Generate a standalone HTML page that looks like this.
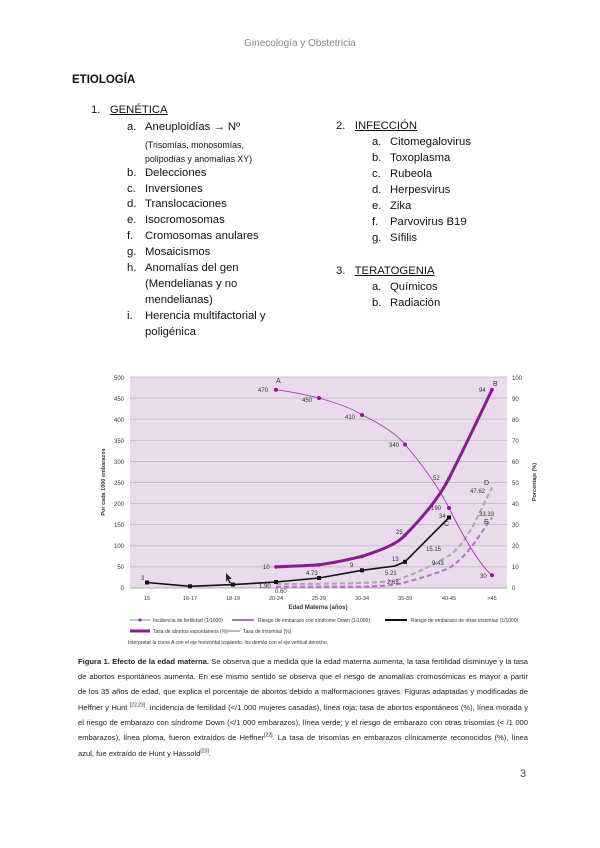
<!DOCTYPE html>
<html><head><meta charset="utf-8"><style>
body{margin:0;background:#fff;}
#p{position:relative;width:600px;height:848px;overflow:hidden;font-family:"Liberation Sans",sans-serif;color:#111;}
.t{position:absolute;white-space:nowrap;font-size:11.3px;line-height:14px;}
.s{font-size:8.8px;}
u{text-decoration:underline;}
.cl{position:absolute;left:78px;width:450px;font-size:7.6px;line-height:11px;white-space:nowrap;text-align:justify;text-align-last:justify;color:#222;}
.cl sup{font-size:5px;line-height:0;}
</style></head><body><div id="p">
<div class="t" style="left:0;width:600px;text-align:center;top:37px;font-size:10px;color:#888">Ginecología y Obstetricia</div>
<div class="t" style="left:72px;top:73px;font-weight:bold;font-size:11.5px">ETIOLOGÍA</div>
<div class="t" style="left:91px;top:103px">1.&nbsp;&nbsp; <u>GENÉTICA</u></div>
<div class="t" style="left:127px;top:120px">a.</div><div class="t" style="left:145px;top:120px">Aneuploidías → Nº</div>
<div class="t s" style="left:145px;top:138px">(Trisomías, monosomías,</div>
<div class="t s" style="left:145px;top:152px">polipodías y anomalías XY)</div>
<div class="t" style="left:127px;top:166px">b.</div><div class="t" style="left:145px;top:166px">Delecciones</div>
<div class="t" style="left:127px;top:182px">c.</div><div class="t" style="left:145px;top:182px">Inversiones</div>
<div class="t" style="left:127px;top:197px">d.</div><div class="t" style="left:145px;top:197px">Translocaciones</div>
<div class="t" style="left:127px;top:213px">e.</div><div class="t" style="left:145px;top:213px">Isocromosomas</div>
<div class="t" style="left:127px;top:229px">f.</div><div class="t" style="left:145px;top:229px">Cromosomas anulares</div>
<div class="t" style="left:127px;top:245px">g.</div><div class="t" style="left:145px;top:245px">Mosaicismos</div>
<div class="t" style="left:127px;top:261px">h.</div><div class="t" style="left:145px;top:261px">Anomalías del gen</div>
<div class="t" style="left:145px;top:277px">(Mendelianas y no</div>
<div class="t" style="left:145px;top:293px">mendelianas)</div>
<div class="t" style="left:127px;top:309px">i.</div><div class="t" style="left:145px;top:309px">Herencia multifactorial y</div>
<div class="t" style="left:145px;top:325px">poligénica</div>
<div class="t" style="left:336px;top:119px">2.&nbsp;&nbsp; <u>INFECCIÓN</u></div>
<div class="t" style="left:372px;top:135px">a.</div><div class="t" style="left:390px;top:135px">Citomegalovirus</div>
<div class="t" style="left:372px;top:151px">b.</div><div class="t" style="left:390px;top:151px">Toxoplasma</div>
<div class="t" style="left:372px;top:167px">c.</div><div class="t" style="left:390px;top:167px">Rubeola</div>
<div class="t" style="left:372px;top:183px">d.</div><div class="t" style="left:390px;top:183px">Herpesvirus</div>
<div class="t" style="left:372px;top:199px">e.</div><div class="t" style="left:390px;top:199px">Zika</div>
<div class="t" style="left:372px;top:215px">f.</div><div class="t" style="left:390px;top:215px">Parvovirus B19</div>
<div class="t" style="left:372px;top:231px">g.</div><div class="t" style="left:390px;top:231px">Sífilis</div>
<div class="t" style="left:336px;top:264px">3.&nbsp;&nbsp; <u>TERATOGENIA</u></div>
<div class="t" style="left:372px;top:280px">a.</div><div class="t" style="left:390px;top:280px">Químicos</div>
<div class="t" style="left:372px;top:296px">b.</div><div class="t" style="left:390px;top:296px">Radiación</div>

<svg style="position:absolute;left:0;top:0" width="600" height="848" font-family="Liberation Sans, sans-serif">
<rect x="130" y="377" width="377" height="211" fill="#e9dbec"/>
<g stroke="#bdb0c0" stroke-width="0.7">
<line x1="130" x2="507" y1="377" y2="377"/><line x1="130" x2="507" y1="398.1" y2="398.1"/><line x1="130" x2="507" y1="419.2" y2="419.2"/><line x1="130" x2="507" y1="440.3" y2="440.3"/><line x1="130" x2="507" y1="461.4" y2="461.4"/><line x1="130" x2="507" y1="482.5" y2="482.5"/><line x1="130" x2="507" y1="503.6" y2="503.6"/><line x1="130" x2="507" y1="524.7" y2="524.7"/><line x1="130" x2="507" y1="545.8" y2="545.8"/><line x1="130" x2="507" y1="566.9" y2="566.9"/></g>
<line x1="130" x2="507" y1="588" y2="588" stroke="#999" stroke-width="0.8"/>
<g font-size="6" fill="#333" text-anchor="end">
<text x="124" y="380">500</text><text x="124" y="401">450</text><text x="124" y="422">400</text><text x="124" y="443">350</text><text x="124" y="464">300</text><text x="124" y="485">250</text><text x="124" y="506">200</text><text x="124" y="527">150</text><text x="124" y="548">100</text><text x="124" y="569">50</text><text x="124" y="590">0</text></g>
<g font-size="6" fill="#333">
<text x="512" y="380">100</text><text x="512" y="401">90</text><text x="512" y="422">80</text><text x="512" y="443">70</text><text x="512" y="464">60</text><text x="512" y="485">50</text><text x="512" y="506">40</text><text x="512" y="527">30</text><text x="512" y="548">20</text><text x="512" y="569">10</text><text x="512" y="590">0</text></g>
<g font-size="5.5" fill="#333" text-anchor="middle">
<text x="147" y="600">15</text><text x="190" y="600">16-17</text><text x="233" y="600">18-19</text><text x="276" y="600">20-24</text><text x="319" y="600">25-29</text><text x="362" y="600">30-34</text><text x="405" y="600">35-39</text><text x="449" y="600">40-45</text><text x="492" y="600">&gt;45</text></g>
<text x="318" y="609" font-size="6" font-weight="bold" text-anchor="middle" fill="#333">Edad Materna (años)</text>
<text transform="translate(105,482) rotate(-90)" font-size="5.5" font-weight="bold" text-anchor="middle" fill="#333">Por cada 1000 embarazos</text>
<text transform="translate(536,482) rotate(-90)" font-size="5.5" font-weight="bold" text-anchor="middle" fill="#333">Porcentaje (%)</text>
<path d="M276,584 C300,584 320,584 362,583 C390,582 400,580 405,577 C425,570 440,560 449,556 C470,540 480,510 492,487.5" fill="none" stroke="#aaa" stroke-width="2" stroke-dasharray="5,3"/>
<path d="M276,586.7 L362,586.7 C390,586 400,584 405,582.4 C425,577 440,572 449,568 C470,555 482,530 492,517.7" fill="none" stroke="#b46fc0" stroke-width="2" stroke-dasharray="5,3"/>
<path d="M276,389.7 C300,393 310,396 319,398 C340,404 355,410 362,415 C385,426 398,436 405,444.5 C425,468 440,490 449,508 C465,540 480,565 492,575.3" fill="none" stroke="#9b3fa6" stroke-width="0.9"/>
<path d="M276,566.9 C300,566 310,565.5 319,564.8 C340,562 350,559 362,556.4 C385,549 398,543 405,535.2 C425,515 440,496 449,478.3 C465,447 480,415 492,389.7" fill="none" stroke="#8a1a8f" stroke-width="3"/>
<polyline points="147,582.5 190,586.3 233,584.6 276,582 319,578 362,570.3 395,566 405,561.8 449,517.5" fill="none" stroke="#111" stroke-width="1.6"/>
<g fill="#8a1a8f"><circle cx="276" cy="389.7" r="2"/><circle cx="319" cy="398" r="2"/><circle cx="362" cy="415" r="2"/><circle cx="405" cy="444.5" r="2"/><circle cx="449" cy="508" r="2"/><circle cx="492" cy="575.3" r="2"/><circle cx="276" cy="566.9" r="1.8"/><circle cx="319" cy="564.8" r="1.8"/><circle cx="362" cy="556.4" r="1.8"/><circle cx="405" cy="535.2" r="1.8"/><circle cx="449" cy="478.3" r="1.8"/><circle cx="492" cy="389.7" r="1.8"/></g>
<g fill="#111"><rect x="145" y="580.5" width="4" height="4"/><rect x="188" y="584.3" width="4" height="4"/><rect x="231" y="582.6" width="4" height="4"/><rect x="274" y="580" width="4" height="4"/><rect x="317" y="576" width="4" height="4"/><rect x="360" y="568.3" width="4" height="4"/><rect x="403" y="559.8" width="4" height="4"/><rect x="447" y="515.5" width="4" height="4"/></g>
<g font-size="6" fill="#333">
<text x="276" y="383" font-size="7">A</text><text x="258" y="392">470</text><text x="302" y="402">450</text><text x="345" y="419">410</text><text x="389" y="447">340</text><text x="431" y="510">190</text><text x="480" y="578">30</text>
<text x="479" y="392">94</text><text x="493" y="386" font-size="7">B</text><text x="433" y="480">52</text><text x="396" y="534">25</text><text x="263" y="569">10</text>
<text x="141" y="580">3</text><text x="306" y="575">4.73</text><text x="350" y="567">9</text><text x="392" y="561">13</text><text x="439" y="518">34</text><text x="444" y="526" font-size="7">C</text>
<text x="484" y="485" font-size="7">D</text><text x="470" y="493">47.62</text><text x="479" y="516">33.33</text><text x="484" y="524" font-size="7">E</text>
<text x="426" y="551">15.15</text><text x="432" y="565">9.43</text><text x="385" y="575">5.21</text><text x="387" y="584">2.65</text><text x="259" y="588">1.90</text><text x="275" y="593">0.60</text></g>
<path d="M226,582 l0,-9 l6,6 l-3,0 l2,4 l-1.5,0.5 l-2,-4 z" fill="#222"/>
<g font-size="5" fill="#333">
<line x1="130" x2="150" y1="620" y2="620" stroke="#b46fc0" stroke-width="1"/><circle cx="140" cy="620" r="1.5" fill="#8a1a8f"/><text x="153" y="622">Incidencia de fertilidad (1/1000)</text>
<line x1="232" x2="254" y1="620" y2="620" stroke="#b46fc0" stroke-width="2"/><text x="258" y="622">Riesgo de embarazo con síndrome Down (1/1000)</text>
<line x1="385" x2="407" y1="620" y2="620" stroke="#111" stroke-width="2"/><text x="411" y="622">Riesgo de embarazo de otras trisomías (1/1000)</text>
<line x1="130" x2="150" y1="631" y2="631" stroke="#8a1a8f" stroke-width="3"/><text x="153" y="633">Tasa de abortos espontáneos (%)</text>
<line x1="222" x2="240" y1="631" y2="631" stroke="#bbb" stroke-width="2"/><text x="243" y="633">Tasa de trisomías (%)</text>
<text x="128" y="644">Interpretar la curva A con el eje horizontal izquierdo; los demás con el eje vertical derecho.</text></g>
<text x="520" y="777" font-size="11" fill="#444">3</text>
</svg>
<div class="cl" style="top:656px"><b>Figura 1. Efecto de la edad materna.</b> Se observa que a medida que la edad materna aumenta, la tasa fertilidad disminuye y la tasa</div>
<div class="cl" style="top:671px">de abortos espontáneos aumenta. En ese mismo sentido se observa que el riesgo de anomalías cromosómicas es mayor a partir</div>
<div class="cl" style="top:686px">de los 35 años de edad, que explica el porcentaje de abortos debido a malformaciones graves. Figuras adaptadas y modificadas de</div>
<div class="cl" style="top:702px">Heffner y Hunt <sup>[22,23]</sup>. Incidencia de fertilidad (&lt;/1 000 mujeres casadas), línea roja; tasa de abortos espontáneos (%), línea morada y</div>
<div class="cl" style="top:717px">el riesgo de embarazo con síndrome Down (&lt;/1 000 embarazos), línea verde; y el riesgo de embarazo con otras trisomías (&lt; /1 000</div>
<div class="cl" style="top:732px">embarazos), línea ploma, fueron extraídos de Heffner<sup>[22]</sup>. La tasa de trisomías en embarazos clínicamente reconocidos (%), línea</div>
<div class="cl" style="top:748px;text-align-last:left">azul, fue extraído de Hunt y Hassold<sup>[23]</sup>.</div>
</div></body></html>
